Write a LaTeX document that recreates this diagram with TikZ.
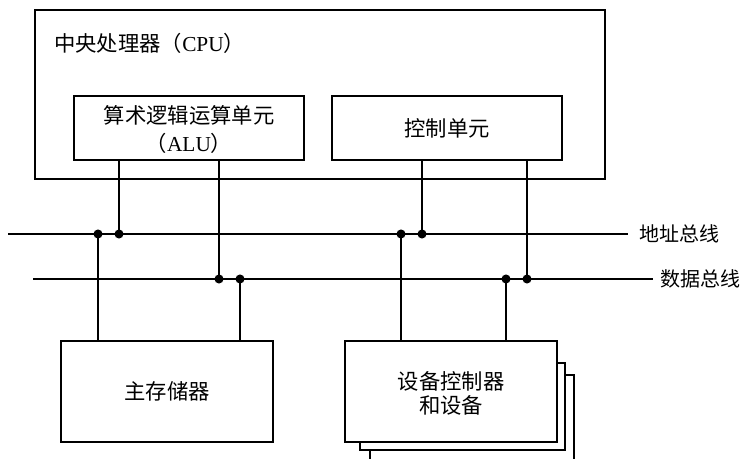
\documentclass[tikz,border=0pt]{standalone}
\usepackage{fontspec}
\setmainfont{Liberation Serif}
\newfontfamily\cjk{Noto Sans CJK SC}
\usetikzlibrary{fit}
\begin{document}
\begin{tikzpicture}[x=0.75pt,y=-0.75pt,
  box/.style={draw,line width=1.1pt,inner sep=0pt,fill=white},
  conn/.style={line width=1.1pt},
  bus/.style={line width=2.1pt},
  lbl/.style={font=\cjk\fontsize{16}{18}\selectfont,inner sep=0pt},
  buslbl/.style={font=\cjk\fontsize{15}{18}\selectfont,inner sep=0pt,anchor=west},
  jdot/.style={fill,circle,inner sep=0pt,minimum size=6.8pt}]
\clip (0,0) rectangle (742,459);
\fill[white] (0,0) rectangle (742,459);
% CPU
\node[box,fit={(35,10) (605,179)}] (cpu) {};
\node[lbl,anchor=west] (cpulbl) at (54,43) {中央处理器（{\rmfamily CPU}）};
\node[box,fit={(74,96) (304,160)}] (alu) {};
\node[lbl,align=center] (alulbl) at (189,130) {算术逻辑运算单元\\[3pt]（{\rmfamily ALU}）};
\node[box,fit={(332,96) (562,160)}] (ctrl) {};
\node[lbl] (ctrllbl) at (ctrl) {控制单元};
% buses
\coordinate (abL) at (8,234);
\coordinate (abR) at (628,234);
\coordinate (dbL) at (33,279);
\coordinate (dbR) at (653,279);
\draw[bus] (abL) -- (abR);
\draw[bus] (dbL) -- (dbR);
\node[buslbl] (ablbl) at (639,234) {地址总线};
\node[buslbl] (dblbl) at (660,279) {数据总线};
% memory & devices
\node[box,fit={(61,341) (273,442)}] (mem) {};
\node[lbl] (memlbl) at (mem) {主存储器};
\node[box,fit={(370,375) (574,470)}] (dev3) {};
\node[box,fit={(360,363) (565,450)}] (dev2) {};
\node[box,fit={(345,341) (557,442)}] (dev) {};
\node[lbl,align=center] (devlbl) at (451,393) {设备控制器\\[0pt]和设备};
% junctions
\coordinate (a1) at (98,234);
\coordinate (a2) at (119,234);
\coordinate (a3) at (401,234);
\coordinate (a4) at (422,234);
\coordinate (d1) at (219,279);
\coordinate (d2) at (240,279);
\coordinate (d3) at (506,279);
\coordinate (d4) at (527,279);
% connectors
\draw[conn] (alu.south -| a2) -- (a2);
\draw[conn] (alu.south -| d1) -- (d1);
\draw[conn] (ctrl.south -| a4) -- (a4);
\draw[conn] (ctrl.south -| d4) -- (d4);
\draw[conn] (a1) -- (mem.north -| a1);
\draw[conn] (d2) -- (mem.north -| d2);
\draw[conn] (a3) -- (dev.north -| a3);
\draw[conn] (d3) -- (dev.north -| d3);
\foreach \p in {a1,a2,a3,a4,d1,d2,d3,d4} \node[jdot] at (\p) {};
\end{tikzpicture}
\end{document}
